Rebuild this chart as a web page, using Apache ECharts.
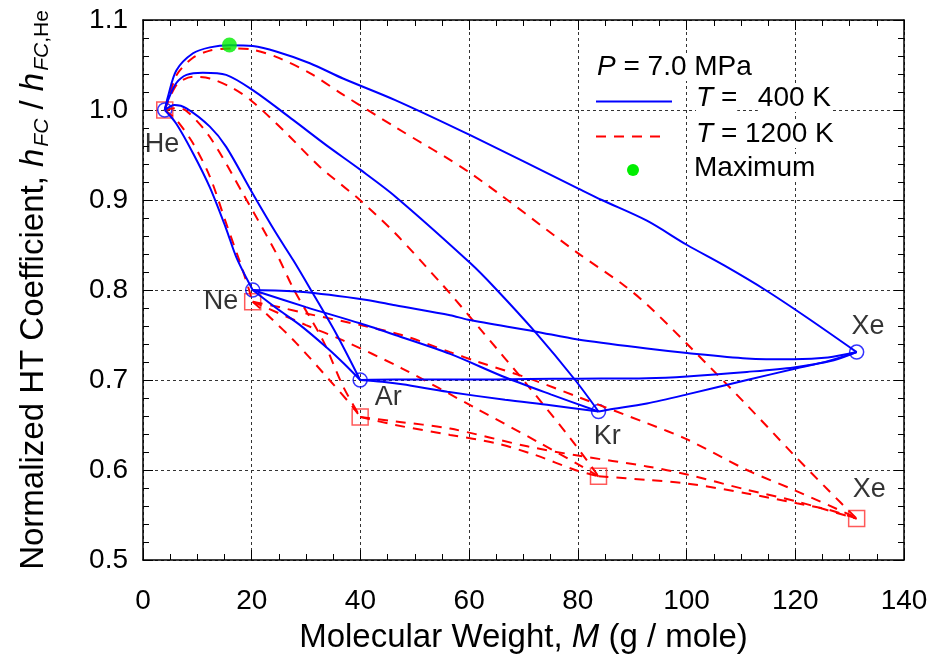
<!DOCTYPE html>
<html><head><meta charset="utf-8">
<script src="https://cdn.jsdelivr.net/npm/echarts@6/dist/echarts.min.js"></script>
<style>html,body{margin:0;padding:0;background:#fff}#c{width:935px;height:664px}</style>
</head><body><div id="c"></div>
<script>
// ---- data (molecular weight, normalized HT coefficient) ----
const gasNames = ['He','Ne','Ar','Kr','Xe'];
const gasMW    = [4.003, 20.18, 39.95, 83.80, 131.29];
const h400     = [1.000, 0.800, 0.700, 0.665, 0.731];
const h1200    = [1.000, 0.787, 0.659, 0.593, 0.546];
const maxPoint = [15.9, 1.0722];

// T = 400 K binary mixture curves
const b_HeNe = [[4.003,1.0],[6.1,0.985],[9.2,0.952],[12.3,0.914],[15.3,0.868],[17.2,0.836],[20.18,0.80]];
const b_HeAr = [[4.003,1.0],[5.8,1.0056],[8.0,1.0019],[12.3,0.9815],[15.3,0.959],[20.2,0.907],[24.5,0.863],[27.65,0.833],[30.7,0.802],[35.5,0.752],[39.95,0.70]];
const b_HeKr = [[4.003,1.0],[4.6,1.011],[6.1,1.0297],[8.0,1.039],[11.0,1.0415],[15.3,1.039],[20.2,1.022],[27.6,0.989],[33.7,0.961],[39.9,0.934],[46.4,0.904],[60.2,0.830],[64.8,0.802],[72.1,0.7537],[79.5,0.70],[83.8,0.665]];
const b_HeXe = [[4.003,1.0],[4.6,1.015],[6.13,1.044],[9.2,1.063],[12.3,1.0696],[15.9,1.072],[20.2,1.071],[24.5,1.065],[30.7,1.052],[36.8,1.035],[46.4,1.011],[60.2,0.972],[80,0.913],[84.4,0.90],[92.7,0.877],[100.1,0.85],[107,0.827],[114.5,0.80],[122,0.77],[131.29,0.731]];
const b_NeAr = [[20.18,0.80],[24.5,0.780],[28.9,0.761],[34,0.735],[37,0.718],[39.95,0.70]];
const b_NeKr = [[20.18,0.80],[30,0.781],[39.9,0.763],[46.4,0.750],[56.5,0.729],[66.6,0.703],[75,0.684],[83.8,0.665]];
const b_NeXe = [[20.18,0.80],[28.9,0.798],[41.2,0.789],[46.4,0.783],[56.5,0.772],[59.8,0.767],[72.1,0.754],[80,0.745],[92.7,0.735],[100.1,0.730],[111.1,0.724],[119.7,0.723],[126,0.725],[131.29,0.731]];
const b_ArKr = [[39.95,0.70],[44,0.698],[47.7,0.6952],[56,0.687],[66.6,0.678],[75,0.672],[83.8,0.665]];
const b_ArXe = [[39.95,0.70],[46.4,0.7005],[58.6,0.7005],[70.9,0.701],[80,0.7015],[92.7,0.702],[100.1,0.704],[111.1,0.709],[119.7,0.714],[127.1,0.722],[131.29,0.731]];
const b_KrXe = [[83.8,0.665],[85.6,0.667],[92.7,0.674],[100.1,0.684],[111.1,0.70],[120.3,0.713],[126,0.721],[131.29,0.731]];

// T = 1200 K binary mixture curves
const r_HeNe = [[4.003,1.0],[6.0,0.99],[9.2,0.963],[12.3,0.926],[15.3,0.874],[18.4,0.821],[20.18,0.787]];
const r_HeAr = [[4.003,1.0],[6.0,1.002],[8.0,0.999],[12.3,0.970],[18.4,0.907],[24.5,0.841],[27.8,0.80],[33.1,0.744],[36.8,0.693],[39.95,0.659]];
const r_HeKr = [[4.003,1.0],[5.0,1.015],[6.5,1.03],[9.2,1.037],[12.3,1.035],[16.6,1.024],[20.2,1.009],[26.4,0.974],[32.5,0.937],[39.9,0.90],[46.4,0.863],[54.9,0.807],[56.8,0.794],[61.7,0.759],[70.9,0.693],[78.9,0.633],[83.8,0.593]];
const r_HeXe = [[4.003,1.0],[4.8,1.015],[6.3,1.04],[9.2,1.058],[12.3,1.066],[16.6,1.0685],[20.2,1.067],[24.5,1.059],[30.7,1.041],[36.8,1.017],[46.4,0.981],[60.2,0.930],[80,0.841],[88.1,0.807],[92.7,0.784],[100.1,0.740],[111.1,0.672],[119.7,0.617],[126,0.578],[131.29,0.546]];
const r_NeAr = [[20.18,0.787],[23.3,0.770],[28.2,0.741],[34.3,0.70],[38.6,0.670],[39.95,0.659]];
const r_NeKr = [[20.18,0.787],[30,0.761],[36.8,0.744],[47.6,0.713],[61.1,0.669],[72.7,0.631],[80.7,0.604],[83.8,0.593]];
const r_NeXe = [[20.18,0.787],[25,0.781],[30,0.774],[40,0.761],[47.6,0.75],[56.5,0.731],[61.7,0.720],[70.9,0.702],[80.1,0.681],[92.7,0.652],[100.1,0.634],[111.1,0.60],[119.7,0.578],[130.1,0.550],[131.29,0.546]];
const r_ArKr = [[39.95,0.659],[46.4,0.65],[56.5,0.639],[64.8,0.630],[72,0.617],[79.5,0.60],[83.8,0.593]];
const r_ArXe = [[39.95,0.659],[46.4,0.654],[56.5,0.646],[70.9,0.626],[80,0.616],[92.7,0.604],[100.1,0.595],[111.1,0.578],[120.3,0.565],[130.1,0.548],[131.29,0.546]];
const r_KrXe = [[83.8,0.593],[92.7,0.589],[100.1,0.585],[111.1,0.574],[120.3,0.563],[126,0.556],[131.29,0.546]];

// gas label anchor positions (data coordinates)
const labelText = ['He','Ne','Ar','Kr','Xe','Xe'];
const labelX    = [3.5, 14.35, 45.1, 85.4, 133.4, 133.6];
const labelY    = [0.962, 0.7867, 0.680, 0.6367, 0.759, 0.578];

const xTickValues = [0,20,40,60,80,100,120,140];
const yTickValues = [0.5,0.6,0.7,0.8,0.9,1.0,1.1];

// ---- chart ----
const BLUE = '#0000ff', RED = '#ff0000';
const FONT = 'Liberation Sans, Arial, sans-serif';
const FS = 28;   // tick / legend text
const FT = 33;   // axis titles
const FL = 27;   // gas labels

const curves400 = [b_HeNe,b_HeAr,b_HeKr,b_HeXe,b_NeAr,b_NeKr,b_NeXe,b_ArKr,b_ArXe,b_KrXe];
const curves1200 = [r_HeNe,r_HeAr,r_HeKr,r_HeXe,r_NeAr,r_NeKr,r_NeXe,r_ArKr,r_ArXe,r_KrXe];

const series = [];
series.push({type:'scatter', name:'sq1200', symbol:'rect', symbolSize:16, z:2,
  itemStyle:{color:'rgba(0,0,0,0)', borderColor:'#ff3030', borderWidth:1.5},
  data: gasMW.map((m,i)=>[m,h1200[i]]), silent:true});
series.push({type:'scatter', name:'c400', symbol:'circle', symbolSize:14, z:2,
  itemStyle:{color:'rgba(0,0,0,0)', borderColor:BLUE, borderWidth:1.5},
  data: gasMW.map((m,i)=>[m,h400[i]]), silent:true});
curves1200.forEach(c=>series.push({type:'line', name:'T = 1200 K', data:c, symbol:'none', smooth:0.3, z:3,
  lineStyle:{color:RED, width:2, type:[10,8]}, silent:true, animation:false}));
curves400.forEach(c=>series.push({type:'line', name:'T = 400 K', data:c, symbol:'none', smooth:0.3, z:4,
  lineStyle:{color:BLUE, width:2}, silent:true, animation:false}));
series.push({type:'scatter', name:'Maximum', symbol:'circle', symbolSize:15, z:5,
  itemStyle:{color:'#00ee00'}, data:[maxPoint], silent:true});
series.push({type:'scatter', name:'labels', symbolSize:0, z:6, silent:true,
  data: labelText.map((t,i)=>({name:t, value:[labelX[i], labelY[i]]})),
  label:{show:true, position:'inside', formatter:p=>p.name, color:'#000', fontSize:FL, fontFamily:FONT}});

const axisCommon = {
  axisLine:{show:true, onZero:false, lineStyle:{color:'#000', width:1.5}},
  axisTick:{show:true, inside:true, length:10, lineStyle:{color:'#000', width:1}},
  minorTick:{show:true, length:6, lineStyle:{color:'#000', width:1}},
};

const txt = (extra)=>Object.assign({fontSize:FS, fontFamily:FONT, fill:'#000'}, extra||{});

const option = {
  animation:false,
  backgroundColor:'#fff',
  grid:{left:143, right:31, top:20, bottom:104, containLabel:false},
  xAxis:[
    Object.assign({type:'value', min:0, max:140, interval:20, position:'bottom',
      name:'{a|Molecular Weight, }{i|M}{a| (g / mole)}', nameLocation:'middle', nameGap:61,
      nameTextStyle:{rich:{a:{fontSize:FT, fontFamily:FONT, color:'#000'}, i:{fontSize:FT, fontFamily:FONT, fontStyle:'italic', color:'#000'}}},
      axisLabel:{color:'#000', fontSize:FS, fontFamily:FONT, margin:27, formatter:v=>xTickValues.includes(v)?String(v):''},
      splitLine:{show:true, lineStyle:{color:'#333', width:1, type:[3,3]}}}, axisCommon,
      {minorTick:Object.assign({}, axisCommon.minorTick, {splitNumber:4})}),
    Object.assign({type:'value', min:0, max:140, interval:20, position:'top',
      axisLabel:{show:false}, splitLine:{show:false}}, axisCommon,
      {minorTick:Object.assign({}, axisCommon.minorTick, {splitNumber:4})})
  ],
  yAxis:[
    Object.assign({type:'value', min:0.5, max:1.1, interval:0.1, position:'left',
      name:'{a|Normalized HT Coefficient, }{i|h}{s|FC}{a| / }{i|h}{s|FC}{t|,He}',
      nameLocation:'middle', nameRotate:90, nameGap:91,
      nameTextStyle:{rich:{
        a:{fontSize:FT, fontFamily:FONT, color:'#000', lineHeight:36},
        i:{fontSize:FT, fontFamily:FONT, fontStyle:'italic', color:'#000', lineHeight:36},
        s:{fontSize:21, fontFamily:FONT, fontStyle:'italic', color:'#000', lineHeight:21, padding:[17,0,0,2]},
        t:{fontSize:21, fontFamily:FONT, color:'#000', lineHeight:21, padding:[17,0,0,0]}}},
      axisLabel:{color:'#000', fontSize:FS, fontFamily:FONT, margin:15, formatter:v=>v.toFixed(1)},
      splitLine:{show:true, lineStyle:{color:'#333', width:1, type:[3,3]}}}, axisCommon,
      {minorTick:Object.assign({}, axisCommon.minorTick, {splitNumber:5})}),
    Object.assign({type:'value', min:0.5, max:1.1, interval:0.1, position:'right',
      axisLabel:{show:false}, splitLine:{show:false}}, axisCommon,
      {minorTick:Object.assign({}, axisCommon.minorTick, {splitNumber:5})})
  ],
  series: series,
  graphic:[
    {type:'text', left:597, top:53, z:100, style:{text:'{i|P}{a| = 7.0 MPa}', backgroundColor:'#fff',
      rich:{a:txt(), i:txt({fontStyle:'italic'})}}},
    {type:'line', z:100, shape:{x1:596, y1:101.5, x2:672, y2:101.5}, style:{stroke:BLUE, lineWidth:2}},
    {type:'text', left:696, top:84, z:100, style:{text:'{i|T}{a| =}', backgroundColor:'#fff',
      rich:{a:txt(), i:txt({fontStyle:'italic'})}}},
    {type:'text', right:935-831, top:84, z:100, style:{text:'400 K', font:FS+'px '+FONT, fill:'#000', backgroundColor:'#fff'}},
    {type:'line', z:100, shape:{x1:596, y1:136.5, x2:664, y2:136.5}, style:{stroke:RED, lineWidth:2, lineDash:[10,8]}},
    {type:'text', left:696, top:120, z:100, style:{text:'{i|T}{a| = 1200 K}', backgroundColor:'#fff',
      rich:{a:txt(), i:txt({fontStyle:'italic'})}}},
    {type:'circle', z:100, shape:{cx:633, cy:170, r:6}, style:{fill:'#00ee00'}},
    {type:'text', left:694, top:154, z:100, style:{text:'Maximum', font:FS+'px '+FONT, fill:'#000', backgroundColor:'#fff'}}
  ]
};
const chart = echarts.init(document.getElementById('c'), null, {renderer:'canvas'});
chart.setOption(option);
</script></body></html>
